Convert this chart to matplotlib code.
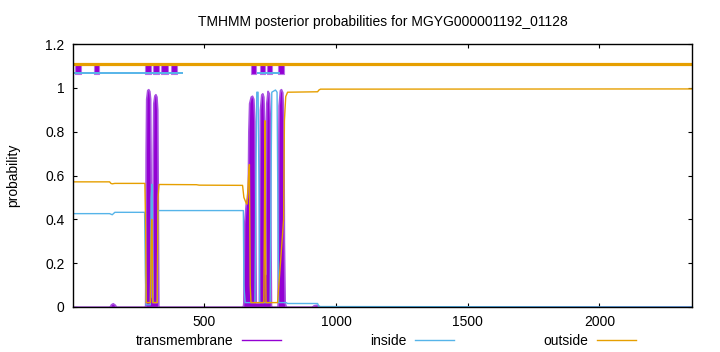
import matplotlib
matplotlib.use("Agg")
import matplotlib.pyplot as plt
from matplotlib.lines import Line2D

plt.rcParams['font.family'] = ['Liberation Sans', 'DejaVu Sans']

# posterior probabilities (residue position, value)
tm_pos = [1, 140, 145, 152, 160, 165, 275, 277, 279, 283, 287, 291, 294, 296, 298, 300,
          302, 304, 306, 310, 314, 318, 321, 323, 325, 646, 648, 651, 657, 662, 665, 667, 670,
          676, 681, 686, 690, 693, 695, 707, 709, 711, 716, 720, 724, 727, 729, 731, 733, 735,
          740, 745, 749, 751, 753, 778, 780, 782, 787, 791, 796, 800, 802, 805, 810,
          908, 915, 925, 935, 940, 2352]
tm_val = [0, 0, 0.012, 0.017, 0.01, 0, 0, 0.7, 0.95, 0.99, 0.994, 0.985, 0.95, 0.6, 0.06, 0.045,
          0.06, 0.7, 0.93, 0.965, 0.971, 0.96, 0.9, 0.5, 0, 0, 0.02, 0.38, 0.47, 0.5, 0.55, 0.8, 0.93,
          0.96, 0.964, 0.95, 0.85, 0.4, 0.02, 0.02, 0.6, 0.9, 0.97, 0.975, 0.96, 0.85, 0.4, 0.15, 0.6,
          0.93, 0.986, 0.975, 0.85, 0.3, 0.0, 0.0, 0.6, 0.92, 0.99, 0.994, 0.98, 0.85, 0.3, 0.02, 0,
          0, 0.008, 0.01, 0.005, 0, 0]

in_pos = [1, 140, 150, 160, 273, 276, 279, 295, 298, 301, 303, 305, 321, 324, 328, 640,
          648, 650, 655, 692, 695, 699, 704, 707, 710, 750, 752, 756, 770, 776, 779, 782,
          810, 816, 930, 935, 2352]
in_val = [0.426, 0.426, 0.421, 0.432, 0.432, 0.15, 0.01, 0.01, 0.5, 0.56, 0.4, 0.02, 0.02, 0.44,
          0.44, 0.44, 0.44, 0.1, 0.02, 0.02, 0.5, 0.98, 0.98, 0.6, 0.02, 0.02, 0.4, 0.98, 0.99,
          0.98, 0.5, 0.02, 0.02, 0.016, 0.016, 0.002, 0.0]

out_pos = [1, 140, 145, 150, 160, 274, 277, 279, 295, 298, 300, 302, 304, 321, 324, 328, 470,
           480, 645, 650, 660, 662, 668, 671, 674, 677, 726, 728, 730, 732, 734, 778, 801, 804,
           809, 816, 930, 935, 941, 2352]
out_val = [0.571, 0.571, 0.564, 0.562, 0.564, 0.564, 0.35, 0.02, 0.02, 0.3, 0.4, 0.3, 0.02, 0.02,
           0.5, 0.559, 0.558, 0.556, 0.555, 0.5, 0.47, 0.47, 0.6, 0.65, 0.1, 0.02, 0.02, 0.4, 0.85,
           0.3, 0.02, 0.02, 0.4, 0.85, 0.96, 0.98, 0.982, 0.99, 0.994, 0.995]

# predicted topology bar at the top
tm_box_start = [8, 79, 276, 305, 337, 375, 677, 712, 736, 781]
tm_box_end = [33, 99, 299, 329, 360, 397, 697, 732, 755, 804]
in_seg_start = [1, 700]
in_seg_end = [420, 789]
out_seg_start = [1]
out_seg_end = [2352]

seq_len = 2352
x_ticks = [500, 1000, 1500, 2000]
y_ticks = [0, 0.2, 0.4, 0.6, 0.8, 1.0, 1.2]
y_tick_labels = ['0', '0.2', '0.4', '0.6', '0.8', '1', '1.2']

c_tm = '#9400d3'
c_in = '#56b4e9'
c_out = '#e69f00'

fig = plt.figure(figsize=(7.2, 3.52), dpi=100)
ax = fig.add_axes([73 / 720, 1 - 307 / 352, (692 - 73) / 720, (307 - 44) / 352])

ax.fill_between(tm_pos, tm_val, 0, color=c_tm, edgecolor='#a850e0', linewidth=1.2)
ax.plot(in_pos, in_val, color=c_in, lw=1.0)
ax.plot(out_pos, out_val, color=c_out, lw=1.0)

# topology bar
ax.hlines([1.107] * len(out_seg_start), out_seg_start, out_seg_end, color=c_out, lw=2.3)
ax.hlines([1.066] * len(in_seg_start), in_seg_start, in_seg_end, color=c_in, lw=1.4)
ax.bar(tm_box_start, 0.046, width=[e - s for s, e in zip(tm_box_start, tm_box_end)],
       bottom=1.062, align='edge', color=c_tm, edgecolor='#b870e8', linewidth=0.8)

ax.set_xlim(1, seq_len)
ax.set_ylim(0, 1.2)
ax.set_xticks(x_ticks)
ax.set_xticklabels([str(t) for t in x_ticks])
ax.set_yticks(y_ticks)
ax.set_yticklabels(y_tick_labels)
ax.tick_params(direction='in', length=3, width=0.8, labelsize=10, top=True, right=True,
               pad=6)
for spine in ax.spines.values():
    spine.set_linewidth(1.0)

ax.set_ylabel('probability', fontsize=10)
ax.yaxis.set_label_coords(-0.085, 0.5)
fig.text(383 / 720, 1 - 22 / 352, 'TMHMM posterior probabilities for MGYG000001192_01128',
         ha='center', va='center', fontsize=10)

handles = [Line2D([], [], color=c_tm, lw=1.0),
           Line2D([], [], color=c_in, lw=1.0),
           Line2D([], [], color=c_out, lw=1.0)]
fig.legend(handles, ['transmembrane', 'inside', 'outside'], loc='center',
           bbox_to_anchor=(386 / 720, 1 - 341 / 352), ncol=3, markerfirst=False,
           frameon=False, fontsize=10, handlelength=2.8, handletextpad=0.6,
           columnspacing=6.45, borderpad=0, borderaxespad=0)

fig.savefig('out.png', dpi=100)
